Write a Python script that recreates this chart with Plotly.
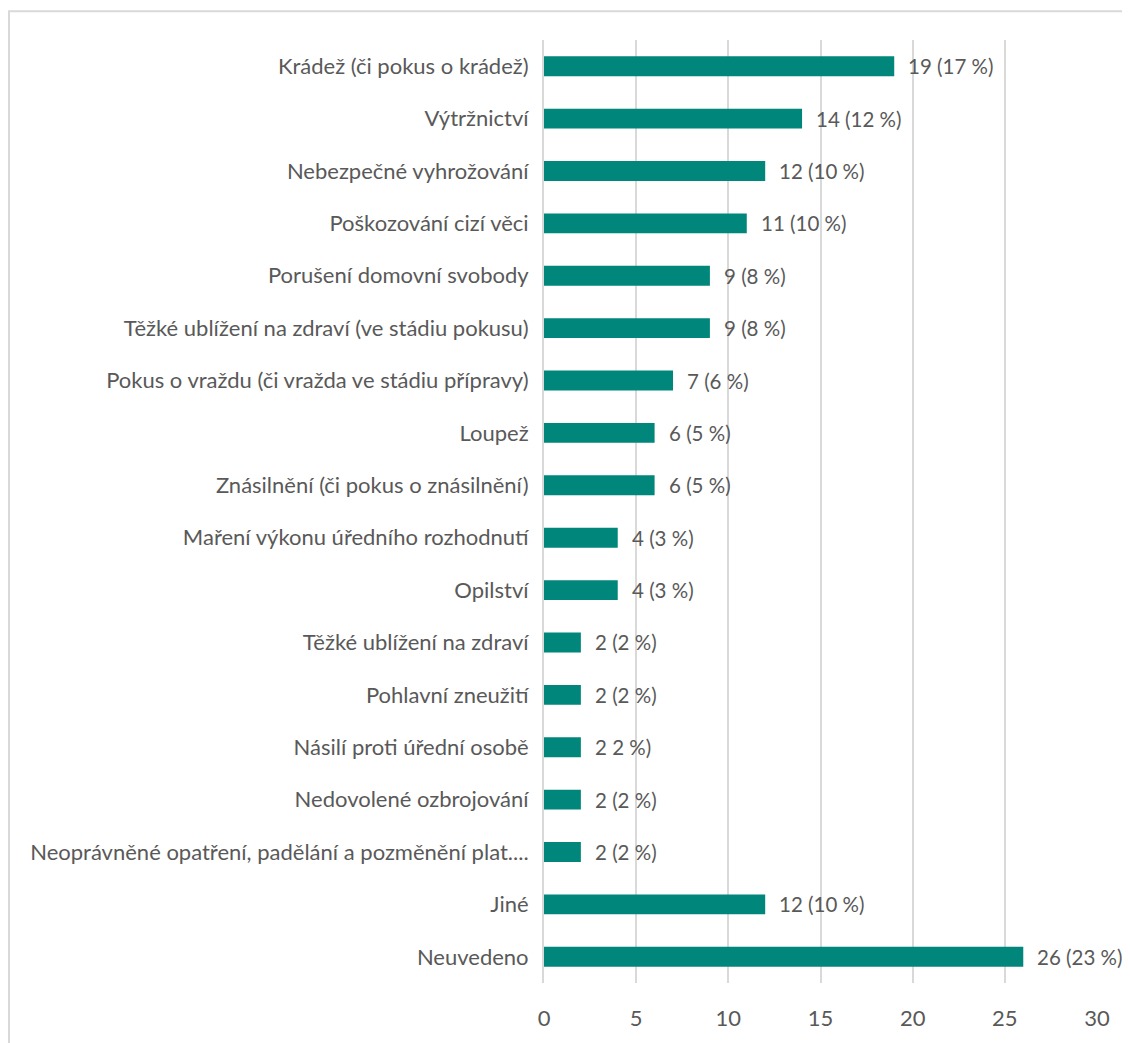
import plotly.graph_objects as go

categories = [
    "Krádež (či pokus o krádež)",
    "Výtržnictví",
    "Nebezpečné vyhrožování",
    "Poškozování cizí věci",
    "Porušení domovní svobody",
    "Těžké ublížení na zdraví (ve stádiu pokusu)",
    "Pokus o vraždu (či vražda ve stádiu přípravy)",
    "Loupež",
    "Znásilnění (či pokus o znásilnění)",
    "Maření výkonu úředního rozhodnutí",
    "Opilství",
    "Těžké ublížení na zdraví",
    "Pohlavní zneužití",
    "Násilí proti úřední osobě",
    "Nedovolené ozbrojování",
    "Neoprávněné opatření, padělání a pozměnění plat....",
    "Jiné",
    "Neuvedeno",
]
values = [19, 14, 12, 11, 9, 9, 7, 6, 6, 4, 4, 2, 2, 2, 2, 2, 12, 26]
data_labels = [
    "19 (17 %)", "14 (12 %)", "12 (10 %)", "11 (10 %)", "9 (8 %)", "9 (8 %)",
    "7 (6 %)", "6 (5 %)", "6 (5 %)", "4 (3 %)", "4 (3 %)", "2 (2 %)",
    "2 (2 %)", "2 2 %)", "2 (2 %)", "2 (2 %)", "12 (10 %)", "26 (23 %)",
]
x_ticks = [0, 5, 10, 15, 20, 25, 30]

BAR = "#00867A"
TXT = "#595959"
GRID = "#d9d9d9"
FONT = "Lato"
FS = 22
FS_LAB = 20.5

# page body has an 8px margin; compensate
W, H = 1122, 1035
L, R, T, B = 536, 33, 32, 53

fig = go.Figure(go.Bar(
    x=values, y=categories, orientation="h",
    marker=dict(color=BAR, line=dict(width=0)),
    hoverinfo="skip",
))

for c, v, lab in zip(categories, values, data_labels):
    fig.add_annotation(x=v, y=c, text=lab, showarrow=False, xanchor="left",
                       xshift=12, font=dict(family=FONT, size=FS_LAB, color=TXT))

pw = W - L - R
ph = H - T - B
fig.add_shape(type="rect", xref="paper", yref="paper",
              x0=(1 - L) / pw, x1=(W + 30 - L) / pw,
              y0=-(B + 30) / ph, y1=(H - B - 3) / ph,
              line=dict(color=GRID, width=2), fillcolor="rgba(0,0,0,0)", layer="below")

fig.update_layout(
    width=W, height=H,
    margin=dict(l=L, r=R, t=T, b=B, pad=0),
    paper_bgcolor="white", plot_bgcolor="white",
    bargap=0.62, showlegend=False,
    font=dict(family=FONT, size=FS, color=TXT),
)
fig.update_xaxes(range=[0, 30], tickvals=x_ticks, showgrid=True, gridcolor=GRID, gridwidth=2,
                 zeroline=False, showline=False, ticks="", ticklabelstandoff=20,
                 tickfont=dict(family=FONT, size=FS, color=TXT), fixedrange=True)
fig.update_yaxes(categoryorder="array", categoryarray=categories, autorange="reversed",
                 showline=True, linecolor=GRID, linewidth=2, ticks="", ticklabelstandoff=9,
                 showgrid=False, tickfont=dict(family=FONT, size=FS, color=TXT), fixedrange=True)

fig.write_html("out.html", config={"displayModeBar": False})
